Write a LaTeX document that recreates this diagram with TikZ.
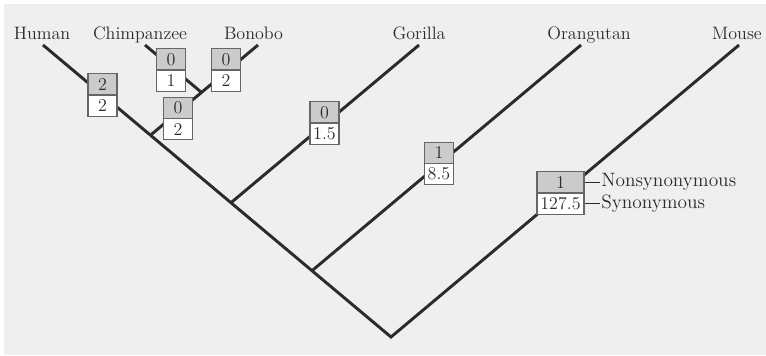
\documentclass[tikz,border=0pt]{standalone}
\usepackage{tikz}
\usetikzlibrary{positioning}
\definecolor{bggray}{HTML}{EFEFEF}
\definecolor{ink}{HTML}{2B2B2B}
\definecolor{nsfill}{HTML}{CBCBCB}
\definecolor{boxline}{HTML}{666666}

\begin{document}
\begin{tikzpicture}[x=0.75pt, y=-0.75pt,
  every node/.style={font=\fontsize{13.5}{16}\selectfont, text=ink},
  branch/.style={draw=ink, line width=2.2pt},
  nsbox/.style={draw=boxline, line width=0.8pt, fill=nsfill, minimum height=16pt,
    inner xsep=2pt, inner ysep=0pt, outer sep=0pt, anchor=south},
  sybox/.style={nsbox, fill=white, anchor=north},
  legend/.style={inner xsep=0.8pt, font=\fontsize{14.5}{17}\selectfont},
  legline/.style={draw=ink, line width=0.7pt}]
\useasboundingbox (0,0) rectangle (766,355);
\fill[bggray] (4,4) rectangle (766,355);

% tips and inner nodes of the tree
\coordinate (human) at (43,45);
\coordinate (chimp) at (145,45);
\coordinate (bonobo) at (258,45);
\coordinate (gorilla) at (419,45);
\coordinate (orangutan) at (581,45);
\coordinate (mouse) at (739,45);
\coordinate (cb) at (201.5,92.4);
\coordinate (hcb) at (150.5,135.2);
\coordinate (hg) at (231,202.7);
\coordinate (ho) at (312,270.7);
\coordinate (root) at (391,337);

\draw[branch, line join=miter] (human) -- (root) -- (mouse);
\draw[branch] (bonobo) -- (hcb);
\draw[branch] (chimp) -- (cb);
\draw[branch] (gorilla) -- (hg);
\draw[branch] (orangutan) -- (ho);

\foreach \n/\x/\t in {human/42/Human, chimp/140/Chimpanzee, bonobo/253.5/Bonobo,
    gorilla/419/Gorilla, orangutan/589/Orangutan, mouse/737/Mouse}
  \node[anchor=base] (lab\n) at (\x,39) {\t};

% substitution counts: nonsynonymous over synonymous
\foreach \n/\x/\y/\w/\ns/\sy in {human/102.5/95/21.75/2/2, chimp/171/70/21.75/0/1,
    bonobo/226/70/21.75/0/2, cb/178/118.5/21.75/0/2, gorilla/324.5/123/21.75/0/1.5,
    orangutan/439/163.5/21.75/1/8.5, mouse/560.5/193/35.25/1/127.5} {
  \node[nsbox, minimum width=\w pt] (ns\n) at (\x,\y) {\ns};
  \node[sybox, minimum width=\w pt] (sy\n) at (\x,\y) {\sy};
}

\node[legend, right=12pt of nsmouse] (nslabel) {Nonsynonymous};
\node[legend, right=12pt of symouse] (sylabel) {Synonymous};
\draw[legline] ([xshift=0.8pt]nsmouse.east) -- (nslabel.west);
\draw[legline] ([xshift=0.8pt]symouse.east) -- (sylabel.west);
\end{tikzpicture}
\end{document}
